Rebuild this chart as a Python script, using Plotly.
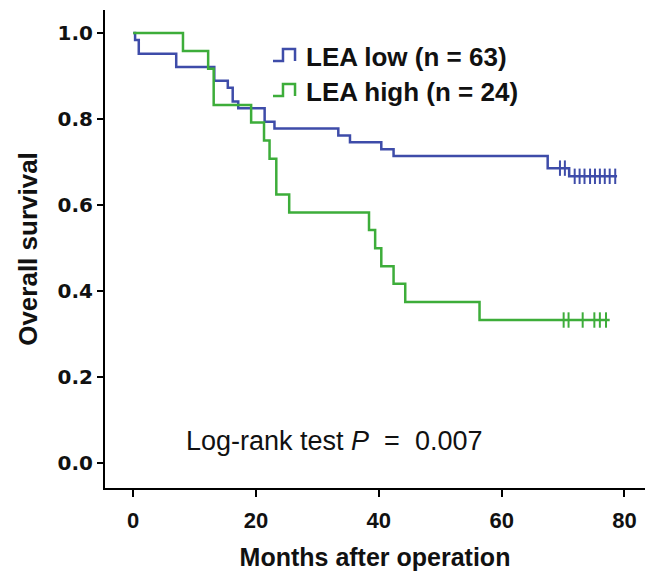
import plotly.graph_objects as go

# ---- data ----
low_times = [0, 0.3, 0.9, 7.0, 13.2, 15.4, 16.2, 17.1, 21.4, 23.0, 33.4, 35.3, 40.4, 42.4, 67.5, 71.0, 78.8]
low_surv = [1.0, 0.984, 0.952, 0.921, 0.889, 0.873, 0.841, 0.825, 0.794, 0.778, 0.762, 0.746, 0.730, 0.714, 0.686, 0.667, 0.667]
low_censor = [69.5, 70.3, 71.9, 72.7, 73.5, 74.4, 75.2, 76.0, 76.8, 77.6, 78.5]

high_times = [0, 8.1, 12.2, 13.1, 19.2, 21.3, 22.2, 23.3, 25.4, 38.4, 39.4, 40.4, 42.4, 44.3, 56.4, 77.6]
high_surv = [1.0, 0.958, 0.917, 0.833, 0.792, 0.750, 0.708, 0.625, 0.583, 0.542, 0.500, 0.458, 0.417, 0.375, 0.333, 0.333]
high_censor = [70.1, 70.9, 73.2, 75.1, 76.0, 77.0]

x_ticks = [0, 20, 40, 60, 80]
y_ticks = [0.0, 0.2, 0.4, 0.6, 0.8, 1.0]
y_tick_text = ["0.0", "0.2", "0.4", "0.6", "0.8", "1.0"]

legend_labels = ["LEA low (n = 63)", "LEA high (n = 24)"]
annotation_text = "Log-rank test <i>P</i>  =  0.007"

BLUE = "#3E4CA9"
GREEN = "#3DAD3A"


def surv_at(times, surv, t):
    s = surv[0]
    for ti, si in zip(times, surv):
        if ti <= t:
            s = si
    return s


# page is 656x571; the html body adds an 8px margin, so the figure is drawn 8px in
OFF = 8
W, H = 656 - OFF, 571 - OFF
L, T = 105 - OFF, 10 - OFF
R = W - (645 - OFF)
B = H - (488 - OFF)
PW, PH = W - L - R, H - T - B


def px(x):  # page pixel -> paper
    return (x - OFF - L) / PW


def py(y):
    return (H - B - (y - OFF)) / PH


fig = go.Figure()
for times, surv, cens, col in [
    (low_times, low_surv, low_censor, BLUE),
    (high_times, high_surv, high_censor, GREEN),
]:
    fig.add_trace(go.Scatter(x=times, y=surv, mode="lines", line=dict(color=col, width=2.5, shape="hv"),
                             showlegend=False, hoverinfo="skip"))
    fig.add_trace(go.Scatter(x=cens, y=[surv_at(times, surv, c) for c in cens], mode="markers",
                             marker=dict(symbol="line-ns", size=11, line=dict(color=col, width=2)),
                             showlegend=False, hoverinfo="skip"))

# manual legend (step icons + labels)
for i, (lab, col) in enumerate(zip(legend_labels, [BLUE, GREEN])):
    yc = 56 + 35 * i
    yb, yt = yc + 5, yc - 7
    path = "M {:.4f},{:.4f} L {:.4f},{:.4f} L {:.4f},{:.4f} L {:.4f},{:.4f} L {:.4f},{:.4f}".format(
        px(273), py(yb), px(283), py(yb), px(283), py(yt), px(295), py(yt), px(295), py(yb))
    fig.add_shape(type="path", path=path, xref="paper", yref="paper",
                  line=dict(color=col, width=2.5))
    fig.add_annotation(x=px(304), y=py(yc + 1), xref="paper", yref="paper", text=lab, showarrow=False,
                       xanchor="left", yanchor="middle",
                       font=dict(family="Liberation Sans", size=26, color="#111111", weight="bold"))

fig.add_annotation(x=px(184), y=py(441), xref="paper", yref="paper", text=annotation_text,
                   showarrow=False, xanchor="left", yanchor="middle",
                   font=dict(family="Liberation Sans", size=27, color="#111111"))

fig.update_layout(
    width=W, height=H,
    margin=dict(l=L, r=R, t=T, b=B, pad=0),
    paper_bgcolor="white", plot_bgcolor="white",
    xaxis=dict(range=[-4.6, 83.35], tickvals=x_ticks, showgrid=False, zeroline=False, automargin=False,
               showline=True, linecolor="black", linewidth=2, ticks="outside", ticklen=7,
               tickwidth=2, tickcolor="black", ticklabelstandoff=5,
               tickfont=dict(family="Liberation Sans", size=22, color="#111111", weight="bold"),
               title=dict(text="Months after operation", standoff=20,
                          font=dict(family="Liberation Sans", size=25, color="#111111", weight="bold"))),
    yaxis=dict(range=[-0.0574, 1.0535], tickvals=y_ticks, ticktext=y_tick_text, showgrid=False,
               zeroline=False, showline=True, linecolor="black", linewidth=2, ticks="outside",
               ticklen=6, tickwidth=2, tickcolor="black", automargin=False,
               tickfont=dict(family="DejaVu Sans", size=20, color="#111111", weight="bold"),
               title=dict(text="Overall survival", standoff=12,
                          font=dict(family="Liberation Sans", size=26, color="#111111", weight="bold"))),
)

fig.write_html("out.html")
